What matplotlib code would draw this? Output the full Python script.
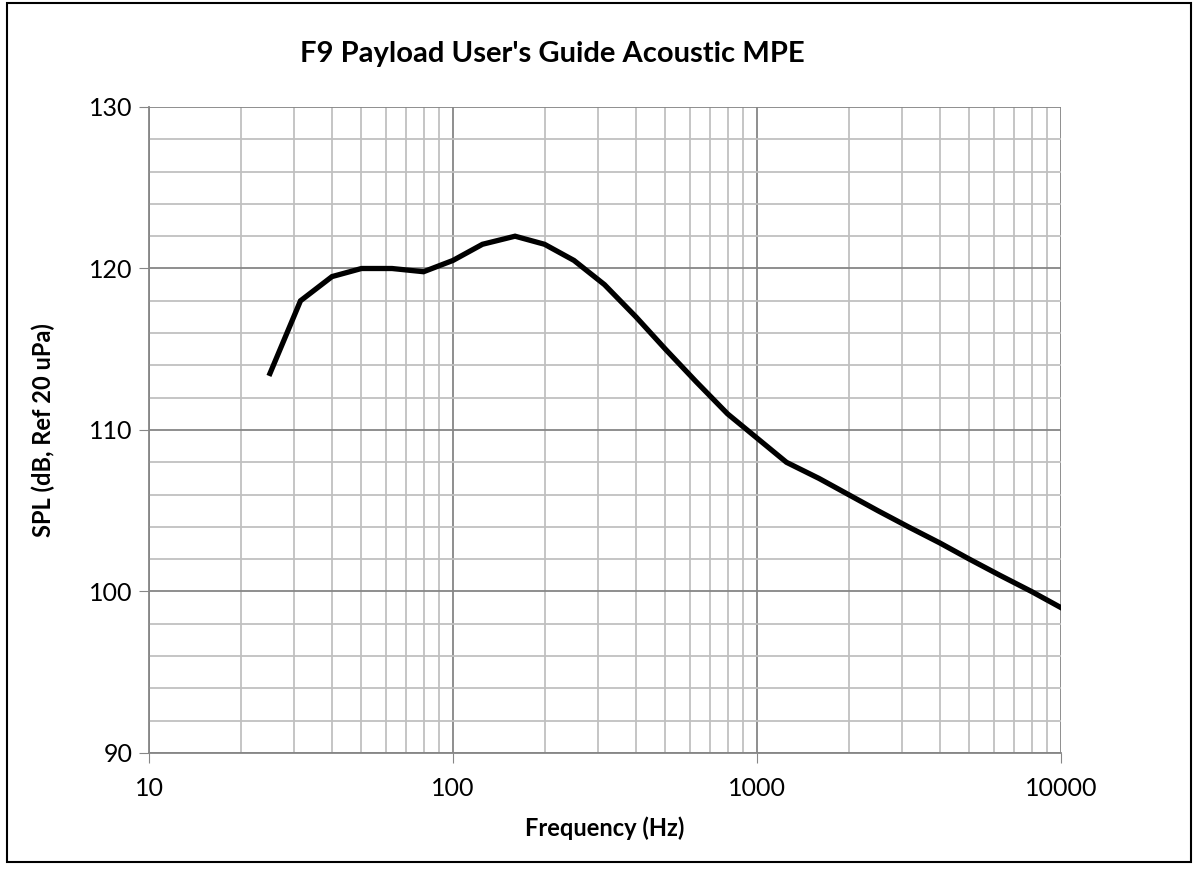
import matplotlib as mpl
mpl.use('Agg')

import matplotlib.pyplot as plt
from matplotlib.patches import Rectangle
from matplotlib.ticker import FixedLocator, NullFormatter, LogLocator

plt.rcParams['font.family'] = ['Lato', 'DejaVu Sans']

# 1/3 octave band centre frequencies and MPE levels
freq_hz = [25, 31.5, 40, 50, 63, 80, 100, 125, 160, 200, 250, 315, 400, 500,
           630, 800, 1000, 1250, 1600, 2000, 2500, 3150, 4000, 5000, 6300,
           8000, 10000]
spl_db = [113.5, 118.0, 119.5, 120.0, 120.0, 119.8, 120.5, 121.5, 122.0, 121.5,
          120.5, 119.0, 117.0, 115.0, 113.0, 111.0, 109.5, 108.0, 107.0, 106.0,
          105.0, 104.0, 103.0, 102.0, 101.0, 100.0, 99.0]

x_ticks = [10, 100, 1000, 10000]
x_labels = ['10', '100', '1000', '10000']
y_ticks = [90, 100, 110, 120, 130]

fig = plt.figure(figsize=(11.98, 8.69), dpi=100)
ax = fig.add_axes([149 / 1198, 1 - 753 / 869, 912 / 1198, 646 / 869])

# outer chart border
fig.patches.append(Rectangle((7 / 1198, 1 - 862 / 869), 1184 / 1198, 859 / 869,
                             transform=fig.transFigure, fill=False,
                             edgecolor='black', linewidth=1.5))

ax.semilogx(freq_hz, spl_db, color='black', linewidth=3.8,
            solid_joinstyle='miter', zorder=5)

ax.set_xlim(10, 10000)
ax.set_ylim(90, 130)
ax.set_xticks(x_ticks)
ax.set_xticklabels(x_labels)
ax.xaxis.set_minor_locator(LogLocator(base=10, subs=range(2, 10)))
ax.xaxis.set_minor_formatter(NullFormatter())
ax.set_yticks(y_ticks)
ax.yaxis.set_minor_locator(FixedLocator(range(90, 131, 2)))

ax.grid(True, which='major', color='#868686', linewidth=1.3)
ax.grid(True, which='minor', color='#c0c0c0', linewidth=1.3)
ax.set_axisbelow(True)

for s in ['top', 'right']:
    ax.spines[s].set_visible(False)
ax.spines['left'].set_color('#868686')
ax.spines['bottom'].set_color('#868686')
ax.spines['left'].set_linewidth(1.3)
ax.spines['bottom'].set_linewidth(1.3)

ax.tick_params(which='major', length=7, color='#868686', labelsize=18, pad=5)
ax.tick_params(axis='x', which='major', pad=10)
ax.tick_params(which='minor', length=0)

ax.set_xlabel('Frequency (Hz)', fontsize=17, fontweight='bold', labelpad=12)
ax.set_ylabel('SPL (dB, Ref 20 uPa)', fontsize=17, fontweight='bold', labelpad=24)
fig.text(552 / 1198, 1 - 54 / 869, "F9 Payload User's Guide Acoustic MPE",
         ha='center', va='center', fontsize=21, fontweight='bold')

plt.savefig('out.png', dpi=100)
